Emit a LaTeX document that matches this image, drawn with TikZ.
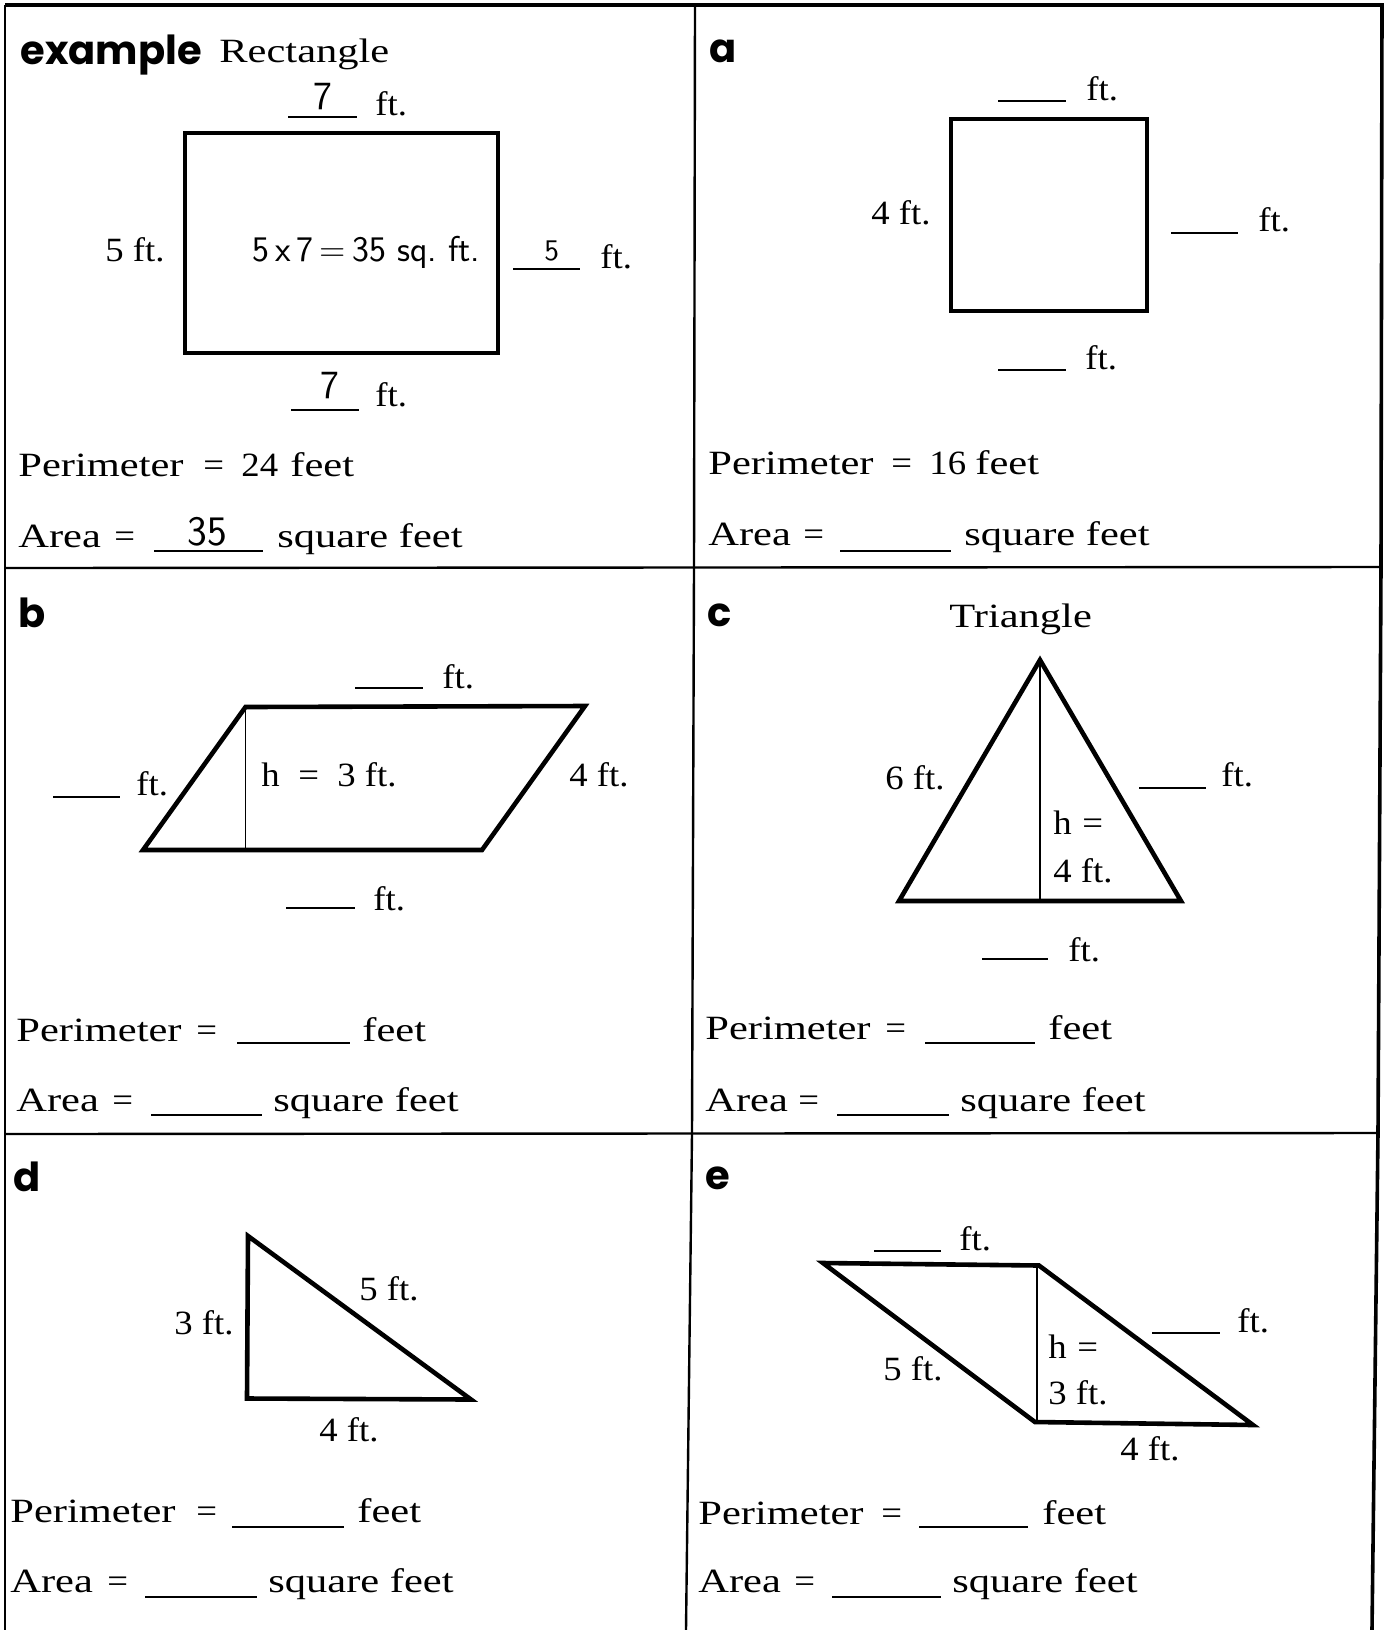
\documentclass[tikz,border=0pt]{standalone}
\usepackage{fontspec}
\setmainfont{Liberation Serif}[FakeStretch=1.08]
\newfontfamily\widefont{Liberation Serif}[FakeStretch=1.25]
\newfontfamily\lblfont{Poppins}
\begin{document}
\begin{tikzpicture}[x=0.5pt,y=-0.5pt,
  txt/.style={inner sep=0pt, anchor=base west, font=\fontsize{17}{20}\selectfont},
  txtw/.style={inner sep=0pt, anchor=base west, font=\widefont\fontsize{17}{20}\selectfont},
  hw/.style={inner sep=0pt, anchor=base west, font=\sffamily\fontsize{#1}{#1}\selectfont},
  hw/.default=20,
  lbl/.style={inner sep=0pt, anchor=base west, font=\lblfont\bfseries\fontsize{20}{24}\selectfont},
  gridline/.style={line width=1.2pt},
  outer/.style={line width=1.8pt},
  shapeline/.style={line width=2.3pt, line join=miter},
  hgt/.style={line width=0.8pt},
  blank/.style={line width=1pt}]
\useasboundingbox (0,0) rectangle (1384,1630);

% ---------- grid ----------
\coordinate (TL) at (5,5);
\coordinate (TR) at (1382,5);
\coordinate (R1) at (1381,567);
\coordinate (R2) at (1378,1133);
\coordinate (BR) at (1372,1630);
\coordinate (BL) at (5,1630);
\coordinate (V0) at (695,5);
\coordinate (V1) at (694,568);
\coordinate (V2) at (692,1134);
\coordinate (V3) at (686,1630);
\coordinate (L1) at (5,568);
\coordinate (L2) at (5,1134);
\draw[outer] (TL) -- (TR) -- (R1) -- (R2) -- (BR);
\draw[gridline] (TL) -- (BL);
\draw[gridline] (V0) -- (V1) -- (V2) -- (V3);
\draw[gridline] (L1) -- (R1);
\draw[gridline] (L2) -- (R2);

% ---------- example ----------
\node[lbl] (exlbl) at (20,64) {example};
\node[txtw] (exrect) at (219,62) {Rectangle};
\draw[shapeline] (185,133) rectangle (498,353);
\node[hw=20] (ex7t) at (313,109) {7};
\draw[blank] (288,117) -- (357,117);
\node[txt] (exft1) at (375,115.6) {ft.};
\node[txt] (ex5l) at (105,261) {5 ft.};
\node[hw=18] (exarea) at (252,261) {5\,x\,7\,=\,35 sq.\ ft.};
\node[hw=15] (ex5r) at (544,260) {5};
\draw[blank] (513,269) -- (580,269);
\node[txt] (exft2) at (600,268) {ft.};
\node[hw=20] (ex7b) at (320,398) {7};
\draw[blank] (291,410) -- (359,410);
\node[txt] (exft3) at (375,406) {ft.};
\node[txtw] (exper) at (18,476) {Perimeter};
\node[txt] (exeq1) at (203,476) {=};
\node[txt] (ex24) at (241,476) {24};
\node[txtw] (exfeet) at (290,476) {feet};
\node[txtw] (exar) at (18,547) {Area};
\node[txt] (exeq2) at (114,547) {=};
\node[hw=21] (ex35) at (187,545) {35};
\draw[blank] (154,551) -- (263,551);
\node[txtw] (exsq) at (277,547) {square feet};

% ---------- a ----------
\node[lbl] (alb) at (709,62) {a};
\draw[shapeline] (951,119) rectangle (1147,311);
\draw[blank] (998,101) -- (1066,101);
\node[txt] (aft1) at (1086,100) {ft.};
\node[txt] (a4) at (871,224) {4 ft.};
\draw[blank] (1171,233) -- (1238,233);
\node[txt] (aft2) at (1258,231) {ft.};
\draw[blank] (998,370) -- (1066,370);
\node[txt] (aft3) at (1085,369) {ft.};
\node[txtw] (aper) at (708,474) {Perimeter};
\node[txt] (aeq1) at (891,474) {=};
\node[txt] (a16) at (929,474) {16};
\node[txtw] (afeet) at (975,474) {feet};
\node[txtw] (aar) at (708,545) {Area};
\node[txt] (aeq2) at (803,545) {=};
\draw[blank] (840,551) -- (951,551);
\node[txtw] (asq) at (964,545) {square feet};

% ---------- b ----------
\node[lbl] (blb) at (18,627) {b};
\coordinate (b1) at (245.5,707);
\coordinate (b2) at (585,706);
\coordinate (b3) at (482,850);
\coordinate (b4) at (143,850);
\coordinate (bh) at (245.5,850);
\draw[shapeline] (b1) -- (b2) -- (b3) -- (b4) -- cycle;
\draw[hgt] (b1) -- (bh);
\draw[blank] (355,688) -- (423,688);
\node[txt] (bft1) at (442,688) {ft.};
\node[txt] (bh1) at (261,786) {h};
\node[txt] (bh2) at (298,786) {=};
\node[txt] (bh3) at (337,786) {3 ft.};
\node[txt] (b4ft) at (569,786) {4 ft.};
\draw[blank] (53,797) -- (120,797);
\node[txt] (bft2) at (136,795) {ft.};
\draw[blank] (286,908) -- (355,908);
\node[txt] (bft3) at (373,910) {ft.};
\node[txtw] (bper) at (16,1041) {Perimeter};
\node[txt] (beq1) at (196,1041) {=};
\draw[blank] (237,1043) -- (350,1043);
\node[txtw] (bfeet) at (362,1041) {feet};
\node[txtw] (bar) at (16,1111) {Area};
\node[txt] (beq2) at (112,1111) {=};
\draw[blank] (151,1115) -- (262,1115);
\node[txtw] (bsq) at (273,1111) {square feet};

% ---------- c ----------
\node[lbl] (clb) at (707,626) {c};
\node[txtw] (ctri) at (949,627) {Triangle};
\coordinate (c1) at (1040,660);
\coordinate (c2) at (899,901);
\coordinate (c3) at (1181,901);
\coordinate (ch) at (1040,901);
\draw[shapeline] (c1) -- (c2) -- (c3) -- cycle;
\draw[hgt] (c1) -- (ch);
\node[txt] (c6) at (885,789) {6 ft.};
\draw[blank] (1139,788) -- (1206,788);
\node[txt] (cft1) at (1221,786) {ft.};
\node[txt] (ch1) at (1053,834) {h};
\node[txt] (ch2) at (1082,834) {=};
\node[txt] (ch3) at (1053,882) {4 ft.};
\draw[blank] (982,959) -- (1048,959);
\node[txt] (cft2) at (1068,961) {ft.};
\node[txtw] (cper) at (705,1039) {Perimeter};
\node[txt] (ceq1) at (885,1039) {=};
\draw[blank] (925,1043) -- (1035,1043);
\node[txtw] (cfeet) at (1048,1039) {feet};
\node[txtw] (car) at (705,1111) {Area};
\node[txt] (ceq2) at (798,1111) {=};
\draw[blank] (837,1115) -- (949,1115);
\node[txtw] (csq) at (960,1111) {square feet};

% ---------- d ----------
\node[lbl] (dlb) at (13,1191) {d};
\coordinate (d1) at (248,1236);
\coordinate (d2) at (247,1398.5);
\coordinate (d3) at (471,1399.5);
\draw[shapeline] (d1) -- (d2) -- (d3) -- cycle;
\node[txt] (d3ft) at (174,1334) {3 ft.};
\node[txt] (d5ft) at (359,1300.6) {5 ft.};
\node[txt] (d4ft) at (319,1441) {4 ft.};
\node[txtw] (dper) at (10,1522) {Perimeter};
\node[txt] (deq1) at (196,1522) {=};
\draw[blank] (232,1527) -- (344,1527);
\node[txtw] (dfeet) at (357,1522) {feet};
\node[txtw] (dar) at (10,1592) {Area};
\node[txt] (deq2) at (107,1592) {=};
\draw[blank] (145,1597) -- (257,1597);
\node[txtw] (dsq) at (268,1592) {square feet};

% ---------- e ----------
\node[lbl] (elb) at (705,1189) {e};
\coordinate (e1) at (823,1263);
\coordinate (e2) at (1039,1265.5);
\coordinate (e3) at (1253,1425);
\coordinate (e4) at (1035,1422);
\coordinate (eh1) at (1037,1265);
\coordinate (eh2) at (1037,1422);
\draw[shapeline] (e1) -- (e2) -- (e3) -- (e4) -- cycle;
\draw[hgt] (eh1) -- (eh2);
\draw[blank] (874,1251) -- (941,1251);
\node[txt] (eft1) at (959,1250) {ft.};
\draw[blank] (1152,1332.5) -- (1220,1332.5);
\node[txt] (eft2) at (1237,1332.5) {ft.};
\node[txt] (eh1t) at (1048,1358) {h};
\node[txt] (eh2t) at (1077,1358) {=};
\node[txt] (e5ft) at (883,1380) {5 ft.};
\node[txt] (e3ft) at (1048,1404) {3 ft.};
\node[txt] (e4ft) at (1120,1460) {4 ft.};
\node[txtw] (eper) at (698,1524) {Perimeter};
\node[txt] (eeq1) at (881,1524) {=};
\draw[blank] (919,1527) -- (1028,1527);
\node[txtw] (efeet) at (1042,1524) {feet};
\node[txtw] (ear) at (698,1592) {Area};
\node[txt] (eeq2) at (794,1592) {=};
\draw[blank] (832,1597) -- (941,1597);
\node[txtw] (esq) at (952,1592) {square feet};
\end{tikzpicture}
\end{document}
